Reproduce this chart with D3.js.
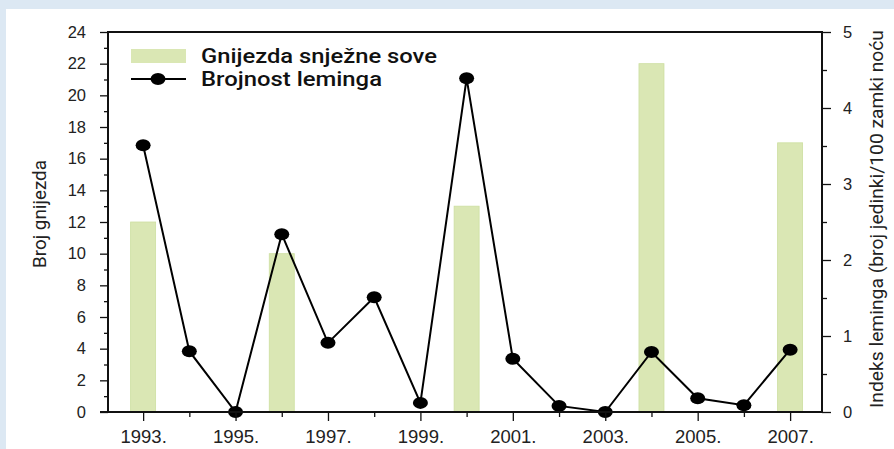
<!DOCTYPE html>
<html>
<head>
<meta charset="utf-8">
<script src="https://cdn.jsdelivr.net/npm/d3@7"></script>
<style>
  html, body { margin: 0; padding: 0; background: #dce8f3; }
  svg { display: block; }
</style>
</head>
<body>
<svg id="chart"></svg>
<script>
// data
const years = [1993, 1994, 1995, 1996, 1997, 1998, 1999, 2000, 2001, 2002, 2003, 2004, 2005, 2006, 2007];
const lemmingIndex = [3.51, 0.80, 0.0, 2.34, 0.91, 1.51, 0.12, 4.39, 0.70, 0.08, 0.0, 0.79, 0.18, 0.09, 0.82];
const nestYears = [1993, 1996, 2000, 2004, 2007];
const nestCounts = [12, 10, 13, 22, 17];
const xTickLabels = [1993, 1995, 1997, 1999, 2001, 2003, 2005, 2007];
const leftTicks = [0, 2, 4, 6, 8, 10, 12, 14, 16, 18, 20, 22, 24];
const rightTicks = [0, 1, 2, 3, 4, 5];

const width = 894, height = 449;
const plot = { left: 108, right: 822, top: 32, bottom: 412 };

const svg = d3.select("#chart")
    .attr("width", width)
    .attr("height", height)
    .attr("font-family", "Roboto, Arial, sans-serif");

// white panel
svg.append("rect")
    .attr("x", 6).attr("y", 9)
    .attr("width", width - 6).attr("height", height - 9)
    .attr("fill", "#ffffff");

const x = d3.scaleLinear().domain([1992.24, 2007.69]).range([plot.left, plot.right]);
const yLeft = d3.scaleLinear().domain([0, 24]).range([plot.bottom, plot.top]);
const yRight = d3.scaleLinear().domain([0, 5]).range([plot.bottom, plot.top]);

// bars (nests)
const barW = 25;
svg.append("g").selectAll("rect")
    .data(nestYears.map((yr, i) => ({ yr, v: nestCounts[i] })))
    .join("rect")
    .attr("x", d => x(d.yr) - barW / 2)
    .attr("y", d => yLeft(d.v))
    .attr("width", barW)
    .attr("height", d => yLeft(0) - yLeft(d.v))
    .attr("fill", "#dae7b4")
    .attr("stroke", "#cddfa0")
    .attr("stroke-width", 0.8);

// lemming line
const line = d3.line().x((d, i) => x(years[i])).y(d => yRight(d));
svg.append("path")
    .datum(lemmingIndex)
    .attr("fill", "none")
    .attr("stroke", "#000")
    .attr("stroke-width", 2)
    .attr("d", line);

svg.append("g").selectAll("ellipse")
    .data(lemmingIndex)
    .join("ellipse")
    .attr("cx", (d, i) => x(years[i]))
    .attr("cy", d => yRight(d))
    .attr("rx", 7.5)
    .attr("ry", 6)
    .attr("fill", "#000");

// axes
const axisColor = "#111";
function styleAxis(g, size) {
    g.select(".domain").remove();
    g.selectAll("line").attr("stroke", axisColor).attr("stroke-width", 1.3);
    g.selectAll("text").attr("fill", "#222").attr("font-size", size);
}

// left axis: majors every 2, minors every 1
svg.append("g")
    .attr("transform", `translate(${plot.left},0)`)
    .call(d3.axisLeft(yLeft).tickValues(d3.range(1, 24, 2)).tickSize(4).tickFormat(""))
    .call(g => styleAxis(g, 16));
svg.append("g")
    .attr("transform", `translate(${plot.left},0)`)
    .call(d3.axisLeft(yLeft).tickValues(leftTicks).tickSize(8).tickPadding(14))
    .call(g => styleAxis(g, 16.5));

// right axis
svg.append("g")
    .attr("transform", `translate(${plot.right},0)`)
    .call(d3.axisRight(yRight).tickValues(d3.range(0.5, 5, 1)).tickSize(5).tickFormat(""))
    .call(g => styleAxis(g, 16));
svg.append("g")
    .attr("transform", `translate(${plot.right},0)`)
    .call(d3.axisRight(yRight).tickValues(rightTicks).tickSize(9).tickPadding(12).tickFormat(d3.format("d")))
    .call(g => styleAxis(g, 16.5));

// bottom axis
svg.append("g")
    .attr("transform", `translate(0,${plot.bottom})`)
    .call(d3.axisBottom(x).tickValues(years.filter(y => !xTickLabels.includes(y))).tickSize(5).tickFormat(""))
    .call(g => styleAxis(g, 18.5));
svg.append("g")
    .attr("transform", `translate(0,${plot.bottom})`)
    .call(d3.axisBottom(x).tickValues(xTickLabels).tickSize(9).tickPadding(9).tickFormat(d => d + "."))
    .call(g => styleAxis(g, 18.5));

// frame lines
svg.append("path")
    .attr("d", `M${plot.left - 8},${plot.bottom}H${plot.right}M${plot.left},${plot.bottom}V${plot.top}H${plot.right}V${plot.bottom}`)
    .attr("fill", "none")
    .attr("stroke", axisColor)
    .attr("stroke-width", 2);

// axis titles
svg.append("text")
    .attr("transform", `translate(46,214) rotate(-90)`)
    .attr("text-anchor", "middle")
    .attr("font-size", 19)
    .attr("fill", "#222")
    .attr("textLength", 108)
    .attr("lengthAdjust", "spacingAndGlyphs")
    .text("Broj gnijezda");

svg.append("text")
    .attr("transform", `translate(883,219) rotate(-90)`)
    .attr("text-anchor", "middle")
    .attr("font-size", 19)
    .attr("fill", "#222")
    .attr("textLength", 378)
    .attr("lengthAdjust", "spacingAndGlyphs")
    .text("Indeks leminga (broj jedinki/100 zamki noću");

// legend
const legend = svg.append("g").attr("font-weight", "500").attr("font-size", 19.5).attr("fill", "#111");
legend.append("rect")
    .attr("x", 131).attr("y", 49).attr("width", 55).attr("height", 14)
    .attr("fill", "#dae7b4");
legend.append("text").attr("x", 201).attr("y", 63)
    .attr("textLength", 236).attr("lengthAdjust", "spacingAndGlyphs")
    .text("Gnijezda snježne sove");
legend.append("line")
    .attr("x1", 131).attr("x2", 186).attr("y1", 79).attr("y2", 79)
    .attr("stroke", "#000").attr("stroke-width", 2);
legend.append("ellipse")
    .attr("cx", 158).attr("cy", 79).attr("rx", 7.5).attr("ry", 6).attr("fill", "#000");
legend.append("text").attr("x", 201).attr("y", 86)
    .attr("textLength", 181).attr("lengthAdjust", "spacingAndGlyphs")
    .text("Brojnost leminga");
</script>
</body>
</html>
